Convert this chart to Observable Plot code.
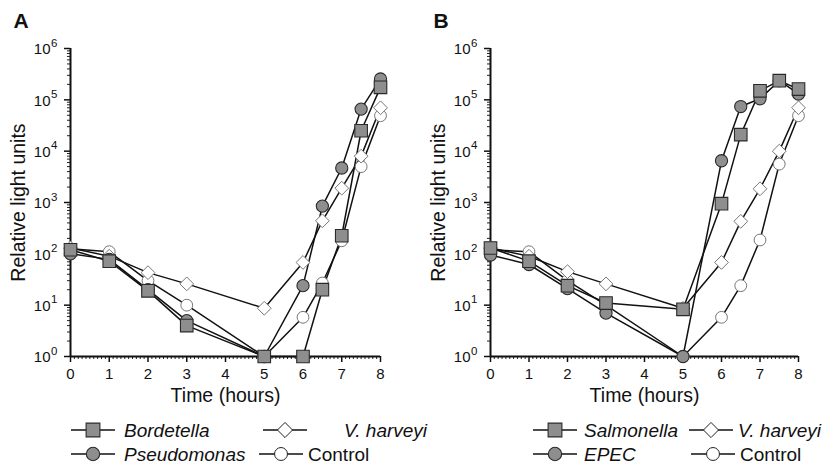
<!DOCTYPE html>
<html>
<head>
<meta charset="utf-8">
<script src="https://cdn.jsdelivr.net/npm/d3@7"></script>
<script src="https://cdn.jsdelivr.net/npm/@observablehq/plot@0.6"></script>
<style>
  html, body { margin: 0; padding: 0; background: #fff; }
  #root { position: relative; width: 826px; height: 463px; font-family: "Liberation Sans", Arial, sans-serif; color: #111; overflow: hidden; }
  .panel { position: absolute; top: 0; }
  .leg { position: absolute; display: flex; align-items: center; font-size: 19px; white-space: nowrap; line-height: 1; }
  .leg svg { display: block; }
  .it { font-style: italic; }
</style>
</head>
<body>
<div id="root"></div>
<script>
// ---- data ----
const times = [0, 1, 2, 3, 5, 6, 6.5, 7, 7.5, 8];

// Panel A
const bordetella  = [120, 72, 19, 4, 1, 1, 20, 225, 25000, 175000];
const pseudomonas = [100, 78, 20, 5, 1, 24, 850, 4700, 66000, 255000];
const vharveyiA   = [130, 90, 43, 26, 8.7, 68, 440, 1900, 8000, 70000];
const controlA    = [125, 110, 30, 10, 1, 5.8, 27, 180, 5000, 49000];

// Panel B
const salmonella  = [130, 72, 24, 11, 8.3, 950, 21000, 150000, 236000, 162000];
const epec        = [95, 62, 21, 7, 1, 6500, 74000, 105000, 236000, 130000];
const vharveyiB   = [130, 90, 45, 26, 8.7, 68, 430, 1850, 10000, 70000];
const controlB    = [120, 110, 30, 10, 1, 5.8, 24, 186, 5600, 49000];

const yMajor = [1, 10, 100, 1000, 10000, 100000, 1000000];
const xMajor = [0, 1, 2, 3, 4, 5, 6, 7, 8];

const panelLabels = ["A", "B"];
const xTitle = "Time (hours)";
const yTitle = "Relative light units";

// ---- helpers ----
const yMinor = [];
for (let d = 0; d < 6; d++) for (let k = 2; k <= 9; k++) yMinor.push(k * Math.pow(10, d));
const xMinor = d3.range(1, 80).filter(i => i % 10 !== 0).map(i => i / 10);

function rows(name, values) {
  return values.map((v, i) => ({name, t: times[i], v}));
}

const styles = {
  sq:  {symbol: "square", r: 7.1, fill: "#8e8e8e", stroke: "#2a2a2a", strokeWidth: 1.1},
  ci:  {symbol: "circle", r: 6.1, fill: "#8e8e8e", stroke: "#2a2a2a", strokeWidth: 1.1},
  di:  {symbol: "diamond2", r: 6.2, fill: "white", stroke: "#777", strokeWidth: 1},
  oc:  {symbol: "circle", r: 5.9, fill: "white", stroke: "#777", strokeWidth: 1}
};

function makePanel(label, series, width, marginRight) {
  const all = series.flatMap(s => s.data);
  const order = ["oc", "di", "ci", "sq"];
  const dots = order.flatMap(k => series.filter(s => s.kind === k).map(s => Plot.dot(s.data, {x: "t", y: "v", ...styles[k]})));
  return Plot.plot({
    width, height: 410,
    marginLeft: 70, marginRight, marginTop: 48, marginBottom: 54,
    style: {fontFamily: "'Liberation Sans', Arial, sans-serif", fontSize: "15px", background: "white", color: "#111"},
    x: {domain: [0, 8], axis: null},
    y: {type: "log", domain: [1, 1e6], axis: null},
    marks: [
      Plot.axisY({ticks: yMinor, tickSize: 3, tickFormat: () => "", label: null, stroke: "#222", strokeWidth: 1}),
      Plot.axisY({ticks: yMajor, tickSize: 6, tickFormat: () => "", label: null, stroke: "#111", strokeWidth: 1.5}),
      Plot.text(yMajor, {x: () => 0, y: d => d, text: () => "10", textAnchor: "end", dx: -20, dy: 1, fontSize: 15}),
      Plot.text(yMajor, {x: () => 0, y: d => d, text: d => String(Math.round(Math.log10(d))), textAnchor: "start", dx: -19.5, dy: -5.5, fontSize: 11.5}),
      Plot.axisX({ticks: xMinor, tickSize: 3, tickFormat: () => "", label: null, stroke: "#222", strokeWidth: 1}),
      Plot.axisX({ticks: xMajor, tickSize: 6, tickPadding: 6, tickFormat: d3.format("d"), fontSize: 15, label: null, stroke: "#111", strokeWidth: 1.5}),
      Plot.ruleX([0], {y1: 1, y2: 1e6, stroke: "#111", strokeWidth: 2}),
      Plot.ruleY([1], {x1: 0, x2: 8, stroke: "#111", strokeWidth: 2}),
      Plot.text([yTitle], {frameAnchor: "left", rotate: -90, dx: -52, textAnchor: "middle", lineAnchor: "middle", fontSize: 19.5}),
      Plot.text([xTitle], {frameAnchor: "bottom", dy: 39, textAnchor: "middle", lineAnchor: "middle", fontSize: 19.5}),
      Plot.text([label], {frameAnchor: "top-left", dx: -57, dy: -35, textAnchor: "start", lineAnchor: "top", fontSize: 21, fontWeight: "bold"}),
      Plot.line(all, {x: "t", y: "v", z: "name", stroke: "#111", strokeWidth: 1.5}),
      ...dots
    ]
  });
}

const root = document.getElementById("root");

const pA = makePanel(panelLabels[0], [
  {kind: "sq", data: rows("Bordetella", bordetella)},
  {kind: "ci", data: rows("Pseudomonas", pseudomonas)},
  {kind: "di", data: rows("V. harveyi", vharveyiA)},
  {kind: "oc", data: rows("Control", controlA)}
], 413, 33);
const dA = document.createElement("div"); dA.className = "panel"; dA.style.left = "0px"; dA.appendChild(pA); root.appendChild(dA);

const pB = makePanel(panelLabels[1], [
  {kind: "sq", data: rows("Salmonella", salmonella)},
  {kind: "ci", data: rows("EPEC", epec)},
  {kind: "di", data: rows("V. harveyi", vharveyiB)},
  {kind: "oc", data: rows("Control", controlB)}
], 406, 28);
const dB = document.createElement("div"); dB.className = "panel"; dB.style.left = "420px"; dB.appendChild(pB); root.appendChild(dB);

// ---- legends ----
function symbolSVG(kind) {
  const s = styles[kind];
  const path = d3.symbol(
    {square: d3.symbolSquare, circle: d3.symbolCircle, diamond2: d3.symbolDiamond2}[s.symbol],
    Math.PI * s.r * s.r * 1.2
  )();
  return `<svg width="46" height="18" viewBox="0 0 46 18"><line x1="1" y1="9" x2="45" y2="9" stroke="#111" stroke-width="1.5"/>` +
    `<path transform="translate(23,9)" d="${path}" fill="${s.fill}" stroke="${kind === "di" || kind === "oc" ? "#222" : s.stroke}" stroke-width="${s.strokeWidth}"/></svg>`;
}
const legendItems = [
  {kind: "sq", text: "Bordetella", it: true, x: 70, y: 430, gap: 8},
  {kind: "ci", text: "Pseudomonas", it: true, x: 70, y: 454, gap: 8},
  {kind: "di", text: "V. harveyi", it: true, x: 262, y: 430, gap: 36},
  {kind: "oc", text: "Control", it: false, x: 258, y: 454, gap: 4},
  {kind: "sq", text: "Salmonella", it: true, x: 532, y: 430, gap: 6},
  {kind: "ci", text: "EPEC", it: true, x: 532, y: 454, gap: 6},
  {kind: "di", text: "V. harveyi", it: true, x: 688, y: 430, gap: 4},
  {kind: "oc", text: "Control", it: false, x: 690, y: 454, gap: 4}
];
legendItems.forEach(d => {
  const el = document.createElement("div");
  el.className = "leg";
  el.style.left = d.x + "px";
  el.style.top = (d.y - 11) + "px";
  el.style.height = "22px";
  el.innerHTML = symbolSVG(d.kind) + `<span class="${d.it ? "it" : ""}" style="margin-left:${d.gap}px">${d.text}</span>`;
  root.appendChild(el);
});
</script>
</body>
</html>
